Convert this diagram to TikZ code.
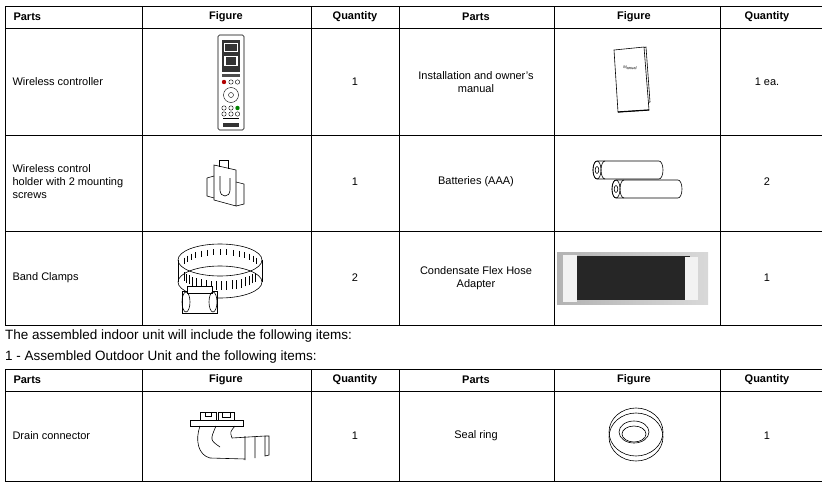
\documentclass[tikz,border=0pt]{standalone}
\usepackage{fontspec}
\setmainfont{Liberation Sans}
\begin{document}
\begin{tikzpicture}[x=1pt,y=-1pt,
  grid/.style={line width=0.8pt},
  cell/.style={font=\fontsize{11}{13}\selectfont, align=center},
  lcell/.style={font=\fontsize{11}{13}\selectfont, align=left, anchor=west},
  head/.style={font=\bfseries\fontsize{11}{13}\selectfont},
  fig/.style={line width=0.6pt}]
\useasboundingbox (0,0) rectangle (825,490);
% table 1 grid
\foreach \y in {6,28,135,231,325} \draw[grid] (5,\y) -- (822,\y);
\foreach \x in {142,311,399,554,720} \draw[grid] (\x,6) -- (\x,325);
\draw[grid] (5,6) -- (5,325);
% table 2 grid
\foreach \y in {369,391,481} \draw[grid] (5,\y) -- (822,\y);
\foreach \x in {142,311,399,554,720} \draw[grid] (\x,369) -- (\x,481);
\draw[grid] (5,369) -- (5,481);
% headers
\foreach \yy in {17,380}{
  \node[head, anchor=west] (hp1) at (10,\yy) {Parts};
  \node[head] (hf1) at (226,\yy) {Figure};
  \node[head] (hq1) at (355,\yy) {Quantity};
  \node[head] (hp2) at (476,\yy) {Parts};
  \node[head] (hf2) at (634,\yy) {Figure};
  \node[head] (hq2) at (767,\yy) {Quantity};
}
% row texts
\node[lcell] (t1) at (9,82) {Wireless controller};
\node[cell] (q1) at (355,82) {1};
\node[cell] (t2) at (476,82) {Installation and owner's\\manual};
\node[cell] (q2) at (767,82) {1 ea.};
\node[lcell] (t3) at (9,182) {Wireless control\\holder with 2 mounting\\screws};
\node[cell] (q3) at (355,182) {1};
\node[cell] (t4) at (476,182) {Batteries (AAA)};
\node[cell] (q4) at (767,182) {2};
\node[lcell] (t5) at (9,278) {Band Clamps};
\node[cell] (q5) at (355,278) {2};
\node[cell] (t6) at (476,278) {Condensate Flex Hose\\Adapter};
\node[cell] (q6) at (767,278) {1};
\node[lcell] (t7) at (9,436) {Drain connector};
\node[cell] (q7) at (355,436) {1};
\node[cell] (t8) at (476,436) {Seal ring};
\node[cell] (q8) at (767,436) {1};
% intermediate text
\node[anchor=west, font=\fontsize{13.5}{15}\selectfont, inner sep=0] (s1) at (5,336) {The assembled indoor unit will include the following items:};
\node[anchor=west, font=\fontsize{13.5}{15}\selectfont, inner sep=0] (s2) at (5,357) {1 - Assembled Outdoor Unit and the following items:};
% remote controller
\draw[fig, rounded corners=1.5pt] (218,35) rectangle (244,130);
\fill[black!80] (222,40) rectangle (240,72);
\fill[white] (224,43) rectangle (238,52);
\fill[black!80] (225,44) rectangle (237,51);
\fill[white] (224,56) rectangle (238,66);
\fill[black!80] (226,57) rectangle (236,65);
\fill[black!70] (222,74) rectangle (240,77);
\fill[red!70!black] (224,82) circle (2.2);
\draw[fig,line width=0.4pt] (231,82) circle (2.2) (237.5,82) circle (2.2);
\draw[fig,line width=0.4pt] (231,95) circle (7.5) (231,95) circle (2.5);
\foreach \yy in {108,114}{\draw[line width=0.4pt] (224,\yy) circle (2.2) (231,\yy) circle (2.2);}
\fill[green!50!black] (237.5,108) circle (2.2);
\draw[line width=0.4pt] (237.5,114) circle (2.2);
\draw[line width=0.4pt] (223,118) -- (239,118);
\fill[black!80] (223,123) rectangle (239,127);
% manual
\draw[fig, fill=white] (620,112) -- (617,56) -- (646,47) -- (650,102) -- cycle;
\draw[fig, fill=white] (618,112) -- (614,50) -- (644,47) -- (649,110) -- cycle;
\draw[fig, line width=1.2pt] (618,112) -- (649,110);
\node[font=\fontsize{4}{5}\selectfont, rotate=-5] (mt) at (630,68) {Manual};
% holder
\draw[fig] (214,165) -- (214,200) -- (236,206) -- (236,170) -- cycle;
\draw[fig] (219,160) -- (219,167) (228,160) -- (228,169);
\draw[fig] (219,160) -- (228,160);
\draw[fig] (207,178) -- (207,196) -- (214,198);
\draw[fig] (207,178) -- (214,176);
\draw[fig] (236,182) -- (244,184) -- (244,204) -- (236,206);
\draw[fig] (220,176) -- (220,190) .. controls (220,198) and (230,198) .. (230,190) -- (230,178);
% batteries
\foreach \xx/\yy in {597/170,616/189}{
  \draw[fig, fill=white] (\xx,\yy-9) -- (\xx+62,\yy-9) arc (-90:90:4 and 9) -- (\xx,\yy+9) arc (90:270:4 and 9) -- cycle;
  \draw[fig] (\xx,\yy) ellipse (4 and 9);
  \draw[fig] (\xx,\yy) ellipse (1.8 and 3.5);
  \draw[fig] (\xx+8,\yy-9) arc (-90:-270:4 and 9);
}
% band clamp
\draw[fig] (220,260) ellipse (42 and 16);
\draw[fig] (220,282) ellipse (42 and 16);
\draw[fig] (178,260) -- (178,282) (262,260) -- (262,282);
\foreach \a in {200,208,...,340}{\draw[line width=0.4pt] ({220+38*cos(\a)},{276-14*sin(\a)}) -- ++(0,-9);}
\foreach \a in {20,30,...,160}{\draw[line width=0.4pt] ({220+38*cos(\a)},{262-13*sin(\a)}) -- ++(0,6);}
\draw[fig, fill=white] (182,291) rectangle (217,313);
\draw[fig, fill=white] (187,286) rectangle (212,293);
\draw[fig] (186,302) ellipse (4 and 10) (213,302) ellipse (4 and 10);
% hose adapter photo
\shade[left color=gray!60, right color=gray!30] (557,252) rectangle (708,304);
\fill[black!85] (575,256) rectangle (690,300);
\fill[white!90!gray] (563,255) rectangle (577,302);
\fill[white!90!gray] (685,257) rectangle (698,300);
% drain connector
\draw[fig] (190,420) rectangle (243,426);
\draw[fig] (200,420) -- (200,412) -- (216,412) -- (216,420);
\draw[fig] (205,412) -- (205,416) -- (211,416) -- (211,412);
\draw[fig] (218,420) -- (218,412) -- (234,412) -- (234,420);
\draw[fig] (222,412) -- (222,417) -- (230,417) -- (230,412);
\draw[fig] (200,426) .. controls (195,440) and (198,455) .. (210,458) -- (245,459);
\draw[fig] (235,426) .. controls (230,432) .. (232,438) -- (265,436);
\draw[fig] (216,426) .. controls (210,440) .. (220,447);
\draw[fig] (245,436) -- (245,460) (255,436) -- (255,458) (265,436) -- (265,456) -- (269,455) -- (269,436) -- (265,436);
% seal ring
\draw[fig] (636,437) ellipse (27 and 24);
\draw[fig] (636,432) ellipse (27 and 24);
\draw[fig] (634,432) ellipse (15 and 11);
\draw[fig] (634,434) ellipse (12 and 8);
\end{tikzpicture}
\end{document}
